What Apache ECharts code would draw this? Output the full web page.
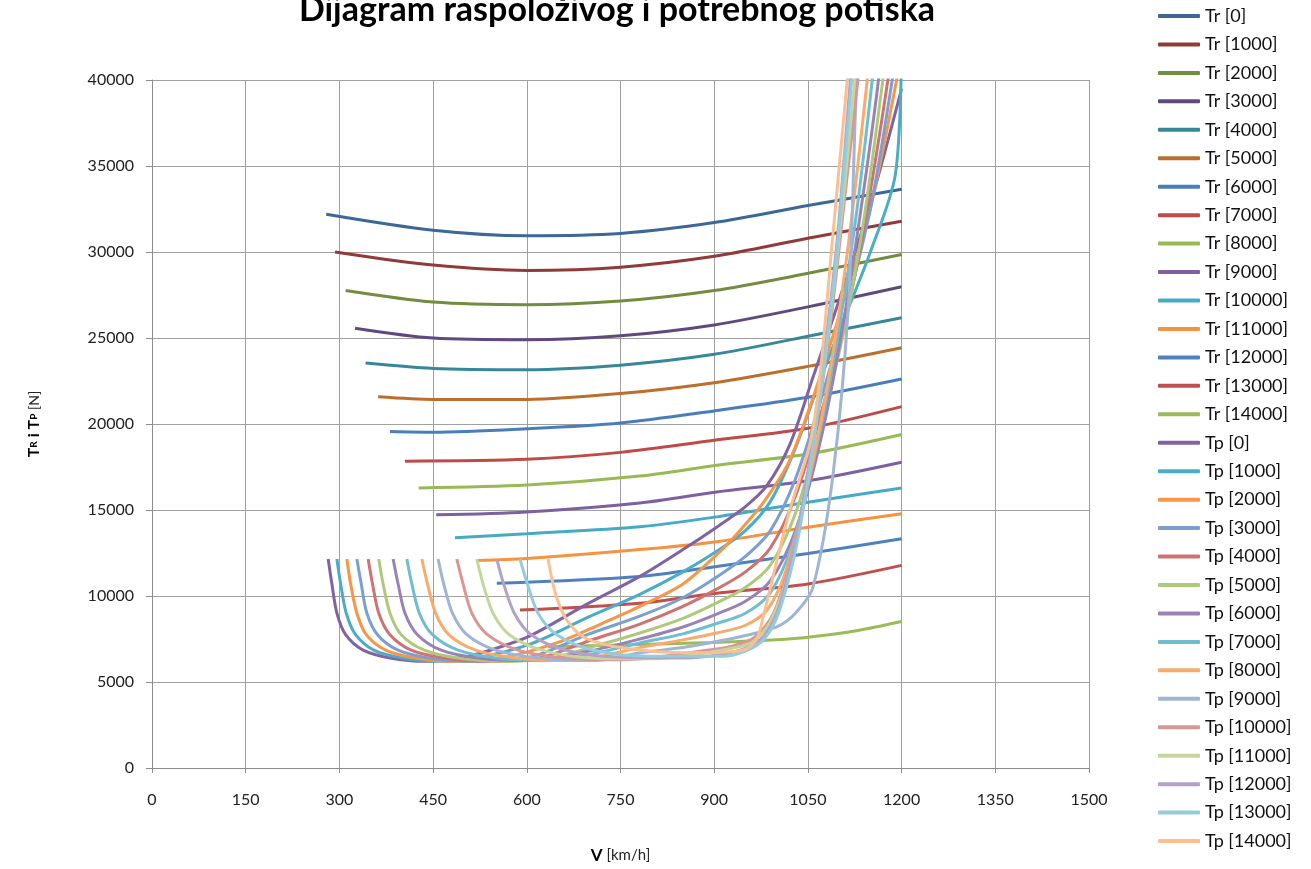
<!DOCTYPE html>
<html>
<head>
<meta charset="utf-8">
<script src="https://cdn.jsdelivr.net/npm/echarts@6/dist/echarts.min.js"></script>
<style>
  html, body { margin: 0; padding: 0; background: #fff; }
  #chart { width: 1311px; height: 869px; }
</style>
</head>
<body>
<div id="chart"></div>
<script>
// altitudes [m] for series names
const altitudes = [0, 1000, 2000, 3000, 4000, 5000, 6000, 7000, 8000, 9000, 10000, 11000, 12000, 13000, 14000];

// available thrust Tr, pairs [V km/h, T N]
const tr0 = [[279,32200],[450,31270],[600,30950],[750,31080],[900,31710],[1050,32700],[1200,33650]];
const tr1 = [[293,30000],[450,29240],[600,28930],[750,29120],[900,29750],[1050,30800],[1200,31790]];
const tr2 = [[310,27760],[450,27090],[600,26940],[750,27150],[900,27760],[1050,28760],[1200,29850]];
const tr3 = [[325,25570],[450,25000],[600,24900],[750,25130],[900,25760],[1050,26810],[1200,27980]];
const tr4 = [[342,23540],[450,23230],[600,23160],[750,23420],[900,24050],[1050,25100],[1200,26180]];
const tr5 = [[362,21580],[450,21430],[600,21430],[750,21770],[900,22400],[1050,23350],[1200,24430]];
const tr6 = [[381,19560],[450,19520],[600,19720],[750,20060],[900,20760],[1050,21550],[1200,22620]];
const tr7 = [[405,17840],[600,17950],[750,18350],[900,19050],[1050,19750],[1200,21010]];
const tr8 = [[427,16280],[600,16450],[781,16970],[904,17600],[1050,18250],[1200,19390]];
const tr9 = [[455,14720],[600,14890],[781,15410],[904,16050],[1050,16700],[1200,17780]];
const tr10 = [[485,13390],[600,13620],[781,14030],[904,14600],[1050,15450],[1200,16280]];
const tr11 = [[520,12060],[600,12180],[781,12700],[904,13160],[1050,14000],[1200,14780]];
const tr12 = [[552,10740],[781,11140],[904,11720],[1050,12470],[1200,13330]];
const tr13 = [[589,9180],[781,9580],[904,10160],[1050,10700],[1200,11780]];
const tr14 = [[634,7050],[750,7150],[900,7300],[1000,7450],[1060,7650],[1130,8000],[1200,8520]];

// required thrust Tp
const tp0 = [[282,12150],[288,10700],[296,9000],[310,7750],[338,6850],[381,6400],[437,6200],[500,6450],[550,6950],[605,7680],[700,9600],[781,11140],[850,12700],[904,14000],[950,15200],[984,16400],[1021,18800],[1058,22700],[1100,27200],[1150,32800],[1200,39500]];
const tp1 = [[296,12150],[302,10700],[311,9000],[326,7750],[355,6850],[400,6400],[459,6200],[520,6400],[605,7200],[700,8800],[781,10100],[850,11400],[904,12600],[950,13800],[990,15500],[1030,18600],[1070,22600],[1110,26300],[1150,30000],[1190,34500],[1200,42000]];
const tp2 = [[312,12150],[318,10700],[328,9000],[343,7750],[374,6850],[421,6400],[484,6200],[560,6400],[650,7300],[720,8400],[781,9400],[850,10700],[904,12400],[941,13800],[980,15500],[1021,17900],[1069,22700],[1110,27500],[1150,32500],[1192,40000],[1200,42000]];
const tp3 = [[328,12150],[335,10700],[344,9000],[361,7750],[394,6850],[443,6400],[508,6200],[600,6400],[700,7800],[781,8830],[850,9900],[904,11100],[950,12300],[990,13800],[1030,16800],[1070,21300],[1110,26500],[1150,32500],[1185,40000],[1195,43000]];
const tp4 = [[346,12150],[353,10700],[363,9000],[381,7750],[415,6850],[467,6400],[536,6200],[620,6400],[700,7400],[781,8370],[850,9400],[904,10400],[950,11400],[990,12800],[1030,15800],[1070,20500],[1110,26000],[1145,32500],[1178,40000],[1188,43000]];
const tp5 = [[363,12150],[370,10700],[381,9000],[399,7750],[436,6850],[490,6400],[563,6200],[640,6400],[700,7000],[781,7850],[850,8700],[904,9600],[950,10500],[990,11800],[1030,14800],[1070,19800],[1110,25800],[1140,32000],[1170,40000],[1180,43000]];
const tp6 = [[386,12150],[394,10700],[405,9000],[425,7750],[463,6850],[521,6400],[598,6250],[700,6800],[781,7500],[850,8200],[904,8950],[950,9700],[990,10900],[1030,13800],[1070,19000],[1105,25500],[1135,32500],[1163,40000],[1170,43000]];
const tp7 = [[408,12150],[416,10700],[428,9000],[449,7750],[490,6850],[551,6400],[632,6250],[700,6600],[781,7270],[850,7800],[904,8400],[950,9000],[990,10200],[1025,13000],[1060,18000],[1095,24500],[1125,31500],[1153,40000],[1160,43000]];
const tp8 = [[432,12150],[441,10700],[454,9000],[475,7750],[518,6850],[583,6400],[670,6250],[720,6500],[781,7000],[850,7450],[904,7850],[950,8300],[985,9200],[1015,11500],[1050,16500],[1085,23000],[1115,30500],[1145,40000],[1152,43000]];
const tp9 = [[458,12150],[467,10700],[481,9000],[504,7750],[550,6850],[618,6400],[710,6250],[781,6700],[850,7000],[904,7350],[950,7700],[1000,8200],[1030,9000],[1058,10500],[1090,17000],[1115,27000],[1128,40000],[1135,43000]];
const tp10 = [[488,12150],[498,10700],[512,9000],[537,7750],[586,6850],[659,6400],[756,6300],[820,6500],[880,6800],[930,7100],[965,7600],[995,9000],[1025,12500],[1055,18000],[1085,25500],[1110,33500],[1130,40000],[1137,43000]];
const tp11 = [[520,12150],[530,10700],[546,9000],[572,7750],[624,6850],[702,6400],[806,6350],[870,6600],[920,6900],[960,7300],[990,8500],[1020,11500],[1050,17000],[1080,24500],[1105,32500],[1125,40000],[1132,43000]];
const tp12 = [[552,12150],[563,10700],[580,9000],[607,7750],[662,6850],[745,6450],[856,6400],[910,6600],[950,6950],[980,7700],[1005,9500],[1035,14000],[1065,21000],[1095,30000],[1118,40000],[1125,43000]];
const tp13 = [[589,12150],[601,10700],[618,9000],[648,7750],[707,6850],[795,6500],[913,6500],[950,6800],[980,7500],[1005,9200],[1035,13500],[1065,20500],[1095,29500],[1120,40000],[1127,43000]];
const tp14 = [[634,12150],[647,10000],[666,8500],[697,7500],[761,6950],[856,6700],[920,6750],[950,6900],[968,7500],[980,9000],[994,11100],[1021,15000],[1053,18800],[1069,22700],[1090,31000],[1113,40000],[1120,43000]];

const trList = [tr0, tr1, tr2, tr3, tr4, tr5, tr6, tr7, tr8, tr9, tr10, tr11, tr12, tr13, tr14];
const tpList = [tp0, tp1, tp2, tp3, tp4, tp5, tp6, tp7, tp8, tp9, tp10, tp11, tp12, tp13, tp14];

const trColors = ['#3d6797', '#903b39', '#738c3f', '#5f4a7d', '#37879b', '#bc6e2c',
  '#4a7ebb', '#be4b48', '#98b954', '#7d60a0', '#46aac5', '#f69240',
  '#4f81bd', '#c0504d', '#9bbb59'];
const tpColors = ['#8064a2', '#4bacc6', '#f79646', '#7c9fd3', '#cd7371', '#afc97a',
  '#9983b5', '#6fbdd1', '#f9ab6b', '#a0b4d4', '#d99694', '#c3d69b',
  '#b3a2c7', '#93cddd', '#fac090'];

const font = 'Lato, "Open Sans", sans-serif';
const series = [];
altitudes.forEach((h, i) => {
  series.push({ name: 'Tr [' + h + ']', type: 'line', data: trList[i], color: trColors[i] });
});
altitudes.forEach((h, i) => {
  series.push({ name: 'Tp [' + h + ']', type: 'line', data: tpList[i], color: tpColors[i] });
});
series.forEach(s => {
  s.symbol = 'none';
  s.smooth = 0.3;
  s.lineStyle = { width: 3 };
  s.animation = false;
});

const chart = echarts.init(document.getElementById('chart'));
chart.setOption({
  backgroundColor: '#fff',
  title: {
    text: 'Dijagram raspoloživog i potrebnog potiska',
    left: 612,
    textAlign: 'center',
    top: -12,
    textStyle: { fontFamily: font, fontSize: 34, fontWeight: 'bold', color: '#000' }
  },
  legend: {
    orient: 'vertical',
    left: 1158,
    top: 6,
    padding: 0,
    itemWidth: 42,
    itemHeight: 4,
    itemGap: 8.45,
    icon: 'roundRect',
    textStyle: { fontFamily: font, fontSize: 18, color: '#111', lineHeight: 20 },
    data: series.map(s => s.name)
  },
  grid: { left: 152, top: 80, width: 937, height: 693 },
  xAxis: {
    type: 'value',
    min: 0, max: 1500, interval: 150,
    name: '{b|V} [km/h]',
    nameLocation: 'middle',
    nameGap: 79,
    nameTextStyle: {
      fontFamily: font, fontSize: 15, color: '#222',
      rich: { b: { fontFamily: font, fontSize: 17, fontWeight: 'bold', color: '#000' } }
    },
    axisLine: { lineStyle: { color: '#8c8c8c', width: 1 } },
    axisTick: { show: true, length: 5, lineStyle: { color: '#8c8c8c' } },
    axisLabel: { fontFamily: font, fontSize: 16, color: '#222', margin: 24, formatter: v => String(v) },
    splitLine: { show: true, lineStyle: { color: '#a0a0a0', width: 1 } }
  },
  yAxis: {
    type: 'value',
    min: 0, max: 40000, interval: 5000,
    name: '{b|T}{s|R}{b| i T}{s|P}{n| [N]}',
    nameLocation: 'middle',
    nameGap: 110,
    nameTextStyle: {
      fontFamily: font,
      rich: {
        b: { fontFamily: font, fontSize: 16, fontWeight: 'bold', color: '#000' },
        s: { fontFamily: font, fontSize: 10, fontWeight: 'bold', color: '#000' },
        n: { fontFamily: font, fontSize: 14, color: '#222' }
      }
    },
    axisLine: { show: true, lineStyle: { color: '#8c8c8c', width: 1 } },
    axisTick: { show: true, length: 6, lineStyle: { color: '#8c8c8c' } },
    axisLabel: { fontFamily: font, fontSize: 16, color: '#222', margin: 18, formatter: v => String(v) },
    splitLine: { show: true, lineStyle: { color: '#a0a0a0', width: 1 } }
  },
  series: series
});
</script>
</body>
</html>
